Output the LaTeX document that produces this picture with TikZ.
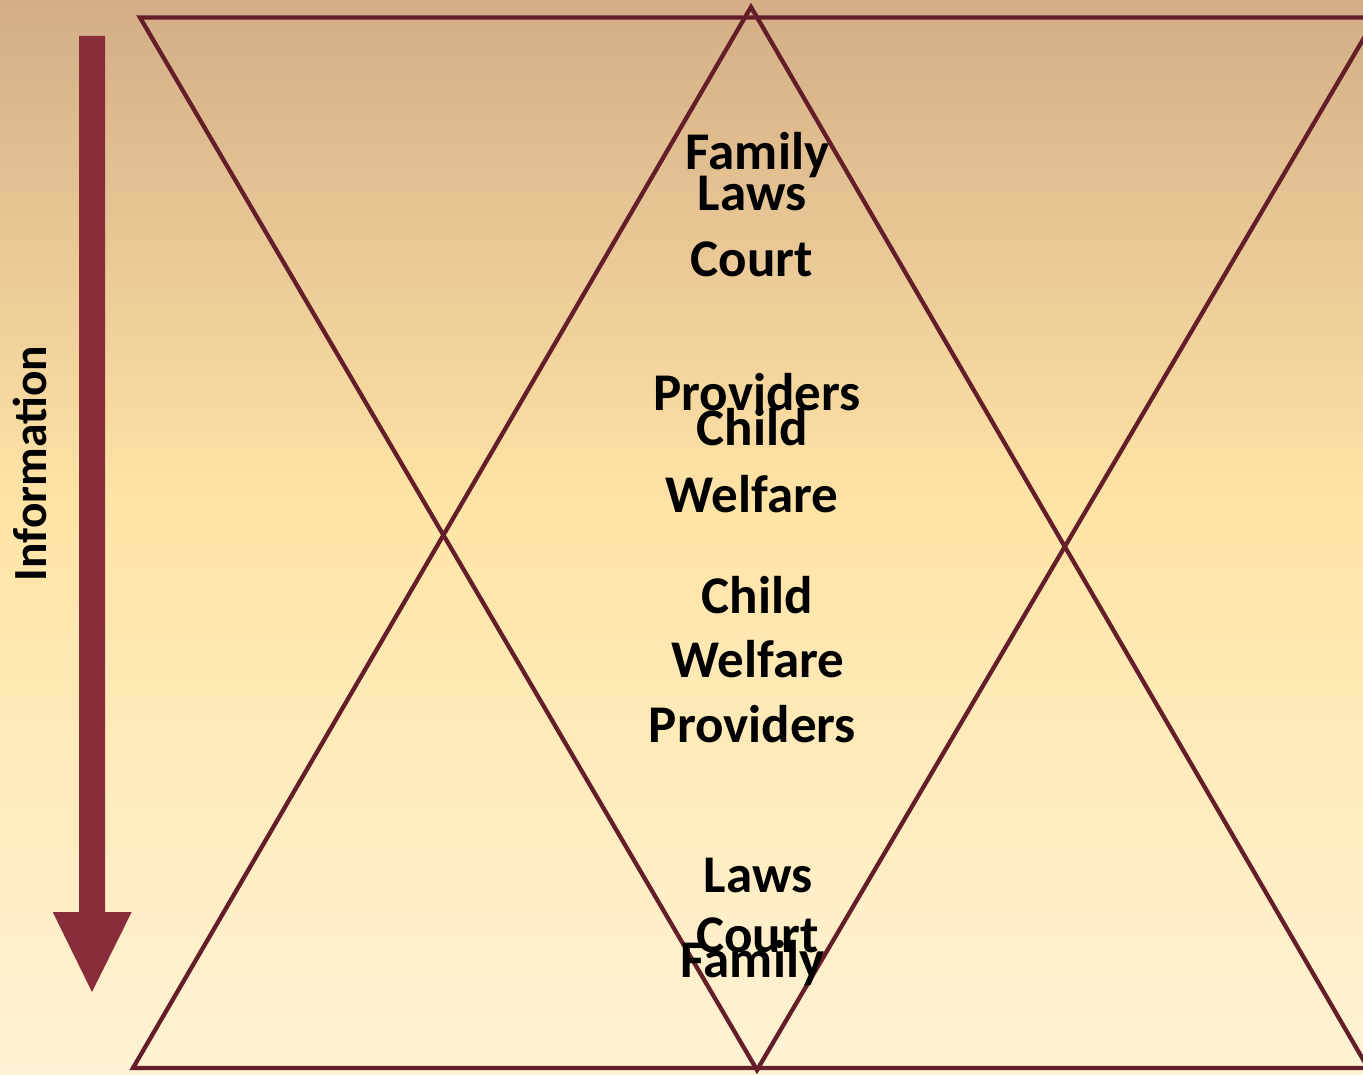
\documentclass[tikz,border=0pt]{standalone}
\usepackage{fontspec}
\setmainfont{Carlito}
\definecolor{bgtop}{RGB}{212,173,134}
\definecolor{bgmid}{RGB}{255,228,166}
\definecolor{bgbot}{RGB}{255,243,213}
\definecolor{linecol}{RGB}{100,30,42}
\definecolor{arrowcol}{RGB}{136,46,58}
\pgfdeclareverticalshading{bgshade}{100bp}{color(0bp)=(bgbot); color(25bp)=(bgbot); color(51.3bp)=(bgmid); color(75bp)=(bgtop); color(100bp)=(bgtop)}
\tikzset{
  tri/.style={draw=linecol, line width=4.3pt, line join=miter},
  lbl/.style={font=\bfseries\fontsize{53}{53}\selectfont, anchor=base, inner sep=0pt, text=black},
  sidelbl/.style={font=\bfseries\fontsize{47.5}{47.5}\selectfont, anchor=base, inner sep=0pt, rotate=90, text=black}
}
\begin{document}
\begin{tikzpicture}[x=1pt,y=-1pt]
\useasboundingbox (0,0) rectangle (1363,1075);
\shade[shading=bgshade] (0,0) rectangle (1363,1075);
\begin{scope}
\clip (0,0) rectangle (1363,1075);
% inverted triangle
\draw[tri] (140,17.5) -- (1376,17.5) -- (757,1070) -- cycle;
% upward triangle
\draw[tri] (751,7) -- (1368,1068) -- (133,1068) -- cycle;
\end{scope}
% information arrow
\fill[arrowcol] (79,36) -- (105,36) -- (105,912) -- (131.7,912) -- (92,992) -- (52.7,912) -- (79,912) -- cycle;
\node[sidelbl] (info) at (46.5,463.5) {Information};
% upper texts
\node[lbl] (fam1) at (757.5,170) {Family};
\node[lbl] (laws1) at (752,211) {Laws};
\node[lbl] (court1) at (752,277) {Court};
\node[lbl] (prov1) at (757,410) {Providers};
\node[lbl] (child1) at (752,445) {Child};
\node[lbl] (welf1) at (752,512) {Welfare};
% lower texts
\node[lbl] (child2) at (757,613) {Child};
\node[lbl] (welf2) at (758,677) {Welfare};
\node[lbl] (prov2) at (752.5,742) {Providers};
\node[lbl] (laws2) at (758,892) {Laws};
\node[lbl] (court2) at (757.5,952) {Court};
\node[lbl] (fam2) at (752.5,977) {Family};
\end{tikzpicture}
\end{document}
